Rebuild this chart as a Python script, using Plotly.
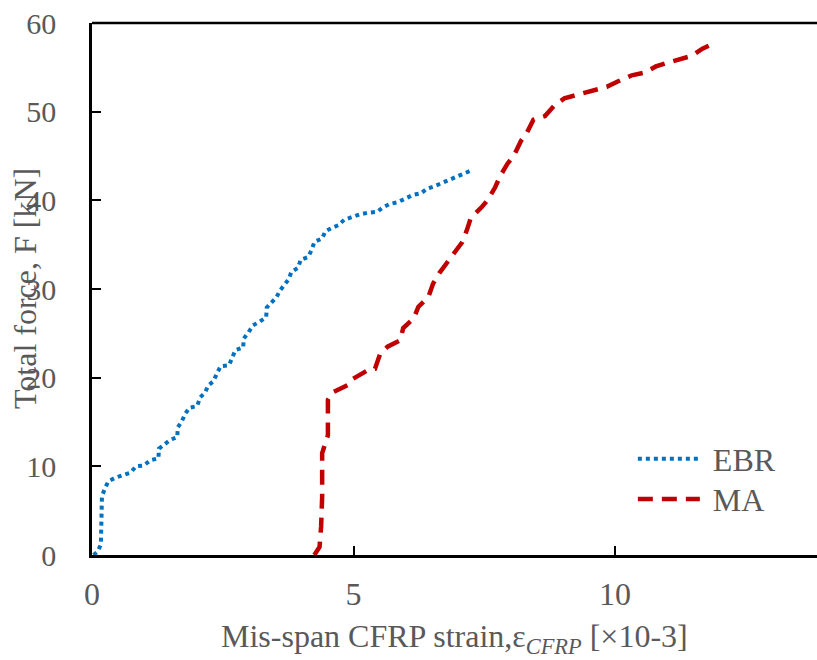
import plotly.graph_objects as go

ebr_x = [0.03, 0.11, 0.17, 0.19, 0.24, 0.31, 0.44, 0.58, 0.74, 0.84, 0.99, 1.12, 1.27, 1.28, 1.39, 1.50,
         1.63, 1.64, 1.71, 1.78, 1.86, 2.01, 2.07, 2.16, 2.22, 2.32, 2.39, 2.46, 2.62, 2.68, 2.74, 2.89,
         2.90, 2.99, 3.08, 3.20, 3.33, 3.34, 3.43, 3.53, 3.59, 3.68, 3.76, 3.81, 3.94, 3.99, 4.13, 4.20,
         4.25, 4.40, 4.46, 4.59, 4.71, 4.82, 4.96, 5.11, 5.27, 5.45, 5.56, 5.70, 5.85, 5.99, 6.13, 6.29,
         6.40, 6.55, 6.70, 6.84, 6.98, 7.12, 7.26]
ebr_y = [0.0, 0.4, 1.2, 6.6, 7.4, 8.3, 8.7, 9.0, 9.3, 10.0, 10.1, 10.7, 10.9, 12.0, 12.5, 13.0,
         13.3, 14.4, 15.0, 15.9, 16.6, 16.8, 17.8, 18.3, 19.1, 19.6, 20.5, 21.3, 21.4, 22.2, 23.1, 23.4,
         24.4, 25.1, 25.9, 26.3, 26.8, 27.9, 28.5, 29.1, 29.8, 30.4, 31.1, 31.9, 32.4, 33.3, 33.6, 34.4,
         35.3, 35.7, 36.5, 36.9, 37.2, 37.8, 38.1, 38.4, 38.6, 38.7, 39.2, 39.6, 39.8, 40.2, 40.6, 40.8,
         41.3, 41.6, 42.0, 42.3, 42.7, 43.0, 43.4]

ma_x = [4.25, 4.35, 4.38, 4.40, 4.40, 4.51, 4.51, 4.59, 4.90, 4.97, 5.29, 5.41, 5.51, 5.65, 5.89, 5.95,
        6.15, 6.24, 6.43, 6.52, 6.64, 6.78, 6.93, 7.08, 7.17, 7.24, 7.46, 7.56, 7.71, 7.80, 7.94, 8.07,
        8.20, 8.32, 8.44, 8.66, 8.84, 9.03, 9.33, 9.55, 9.84, 10.05, 10.32, 10.56, 10.78, 10.99, 11.27,
        11.47, 11.67, 11.88]
ma_y = [0.0, 0.9, 3.2, 6.6, 11.5, 13.5, 17.5, 18.3, 19.2, 19.8, 20.9, 21.0, 22.7, 23.5, 24.2, 25.6,
        26.7, 28.0, 29.1, 30.6, 31.8, 32.9, 34.2, 35.3, 36.7, 38.0, 39.3, 40.0, 41.5, 42.7, 44.1, 45.1,
        46.7, 47.7, 49.1, 49.5, 50.7, 51.5, 52.0, 52.4, 52.8, 53.4, 54.1, 54.4, 55.1, 55.5, 55.9,
        56.3, 57.1, 57.7]

x_ticks = [0, 5, 10]
y_ticks = [0, 10, 20, 30, 40, 50, 60]

FONT = "Liberation Serif"
GREY = "#595959"

fig = go.Figure()
fig.add_trace(go.Scatter(x=ebr_x, y=ebr_y, mode="lines", name="\u00a0EBR", legend="legend",
                         line=dict(color="#0070C0", width=4, dash="4px,4px")))
fig.add_trace(go.Scatter(x=ma_x, y=ma_y, mode="lines", name="\u00a0MA", legend="legend2",
                         line=dict(color="#C00000", width=4.5, dash="15px,9px")))

leg_common = dict(xanchor="left", yanchor="middle",
                  font=dict(family=FONT, size=32, color=GREY),
                  itemwidth=62, bgcolor="rgba(0,0,0,0)")

fig.update_layout(
    width=817, height=660,
    margin=dict(l=92, r=0, t=23, b=105),
    plot_bgcolor="white", paper_bgcolor="white",
    font=dict(family=FONT, size=31, color=GREY),
    showlegend=True,
    legend=dict(x=0.746, y=0.1805, **leg_common),
    legend2=dict(x=0.746, y=0.105, **leg_common),
    xaxis=dict(range=[0, 13.86], tickvals=x_ticks, ticks="inside", ticklen=9, tickwidth=2,
               tickcolor="black", showline=True, linecolor="black", linewidth=2.5,
               showgrid=False, zeroline=False, ticklabelstandoff=9,
               tickfont=dict(family=FONT, size=32, color=GREY)),
    yaxis=dict(range=[0, 60], tickvals=y_ticks, ticks="inside", ticklen=9, tickwidth=2,
               tickcolor="black", showline=True, linecolor="black", linewidth=2.5,
               showgrid=False, zeroline=False, ticklabelstandoff=27,
               tickfont=dict(family=FONT, size=30, color=GREY)),
    shapes=[dict(type="line", xref="paper", yref="paper", x0=0, x1=1, y0=1, y1=1,
                 line=dict(color="black", width=2.5))],
    annotations=[
        dict(text="Total force, F [kN]", xref="paper", yref="paper", x=0, y=0.5,
             xanchor="center", yanchor="middle", xshift=-67, textangle=-90, showarrow=False,
             font=dict(family=FONT, size=32, color=GREY)),
        dict(text="Mis-span CFRP strain,ε<sub><i>CFRP</i></sub> [×10-3]", xref="paper", yref="paper",
             x=0.5, y=0, xanchor="center", yanchor="middle", yshift=-83, showarrow=False,
             font=dict(family=FONT, size=32, color=GREY)),
    ],
)

fig.write_html("out.html")
